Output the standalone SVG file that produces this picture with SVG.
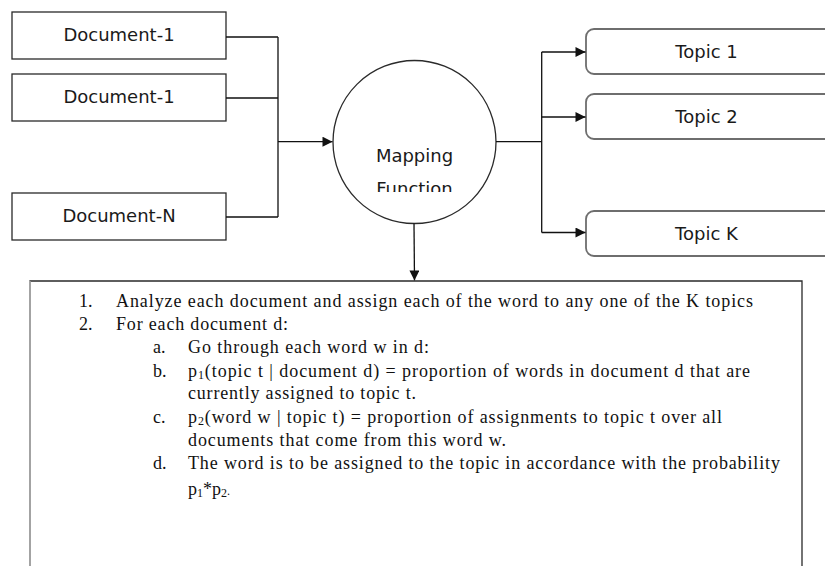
<svg xmlns="http://www.w3.org/2000/svg" width="825" height="566" viewBox="0 0 825 566">
<defs>
<style>
.doc{fill:#fff;stroke:#2a2a2a;stroke-width:1.3}
.topic{fill:#fff;stroke:#6e6e6e;stroke-width:1.8}
.lbl{font-family:"DejaVu Sans","Liberation Sans",sans-serif;font-size:18px;fill:#1a1a1a;text-anchor:middle}
.con{fill:none;stroke:#111;stroke-width:1.3}
.body{font-family:"Liberation Serif","Times New Roman",serif;font-size:18px;fill:#111}
.sub{font-size:12px}
</style>
<marker id="arr" viewBox="0 0 10 10" refX="10" refY="5" markerWidth="11" markerHeight="10" markerUnits="userSpaceOnUse" orient="auto">
<path d="M0,0 L10,5 L0,10 Z" fill="#111"/>
</marker>
<clipPath id="clipMap"><rect x="330" y="60" width="170" height="132"/></clipPath>
</defs>
<rect width="825" height="566" fill="#fff"/>

<g id="doc1"><rect class="doc" x="12" y="12" width="214" height="47"/><text class="lbl" x="119" y="41">Document-1</text></g>
<g id="doc2"><rect class="doc" x="12" y="74" width="214" height="47"/><text class="lbl" x="119" y="103">Document-1</text></g>
<g id="docN"><rect class="doc" x="12" y="193" width="214" height="47"/><text class="lbl" x="119" y="222">Document-N</text></g>

<g id="mapping">
<circle cx="414.5" cy="142" r="81.5" fill="#fff" stroke="#2a2a2a" stroke-width="1.3"/>
<g clip-path="url(#clipMap)">
<text class="lbl" x="414.5" y="162">Mapping</text>
<text class="lbl" x="414.5" y="195">Function</text>
</g>
</g>

<g id="topic1"><rect class="topic" x="586" y="29" width="250" height="45" rx="8"/><text class="lbl" x="706.5" y="57.5">Topic 1</text></g>
<g id="topic2"><rect class="topic" x="586" y="94" width="250" height="45" rx="8"/><text class="lbl" x="706.5" y="123">Topic 2</text></g>
<g id="topicK"><rect class="topic" x="586" y="211" width="250" height="45" rx="8"/><text class="lbl" x="706.5" y="239.5">Topic K</text></g>

<g id="connectors">
<path class="con" d="M226,37 H278 M226,98 H278 M226,217 H278 M278,37 V217"/>
<path class="con" d="M278,141.7 H332.5" marker-end="url(#arr)"/>
<path class="con" d="M496,141.7 H541.7 M541.7,52 V232.5"/>
<path class="con" d="M541.7,52 H585.5" marker-end="url(#arr)"/>
<path class="con" d="M541.7,117 H585.5" marker-end="url(#arr)"/>
<path class="con" d="M541.7,232.5 H585.5" marker-end="url(#arr)"/>
<path class="con" d="M414,223.5 L414.5,280.5" marker-end="url(#arr)"/>
</g>

<g id="steps">
<path d="M30,575 V281 H802 V575" fill="none" stroke="#2a2a2a" stroke-width="1.3"/>
<line x1="30" y1="281" x2="30" y2="575" stroke="#bdbdbd" stroke-width="1.3"/>
<text class="body" x="79" y="306.7">1.</text>
<text class="body" x="116" y="306.7" textLength="637" lengthAdjust="spacing">Analyze each document and assign each of the word to any one of the K topics</text>
<text class="body" x="79" y="330">2.</text>
<text class="body" x="116" y="330" textLength="172" lengthAdjust="spacing">For each document d:</text>
<text class="body" x="153" y="353">a.</text>
<text class="body" x="188" y="353" textLength="241" lengthAdjust="spacing">Go through each word w in d:</text>
<text class="body" x="153" y="376.5">b.</text>
<text class="body" x="188" y="376.5" textLength="562" lengthAdjust="spacing">p<tspan class="sub" dy="2">1</tspan><tspan dy="-2">(topic t | document d) = proportion of words in document d that are</tspan></text>
<text class="body" x="188" y="398.5" textLength="228" lengthAdjust="spacing">currently assigned to topic t.</text>
<text class="body" x="153" y="423.3">c.</text>
<text class="body" x="188" y="423.3" textLength="534" lengthAdjust="spacing">p<tspan class="sub" dy="2">2</tspan><tspan dy="-2">(word w | topic t) = proportion of assignments to topic t over all</tspan></text>
<text class="body" x="188" y="445.7" textLength="318" lengthAdjust="spacing">documents that come from this word w.</text>
<text class="body" x="153" y="469">d.</text>
<text class="body" x="188" y="469" textLength="592" lengthAdjust="spacing">The word is to be assigned to the topic in accordance with the probability</text>
<text class="body" x="188" y="495">p<tspan class="sub" dy="2">1</tspan><tspan dy="-2">*p</tspan><tspan class="sub" dy="2">2</tspan><tspan class="sub" dy="-2">.</tspan></text>
</g>
</svg>
